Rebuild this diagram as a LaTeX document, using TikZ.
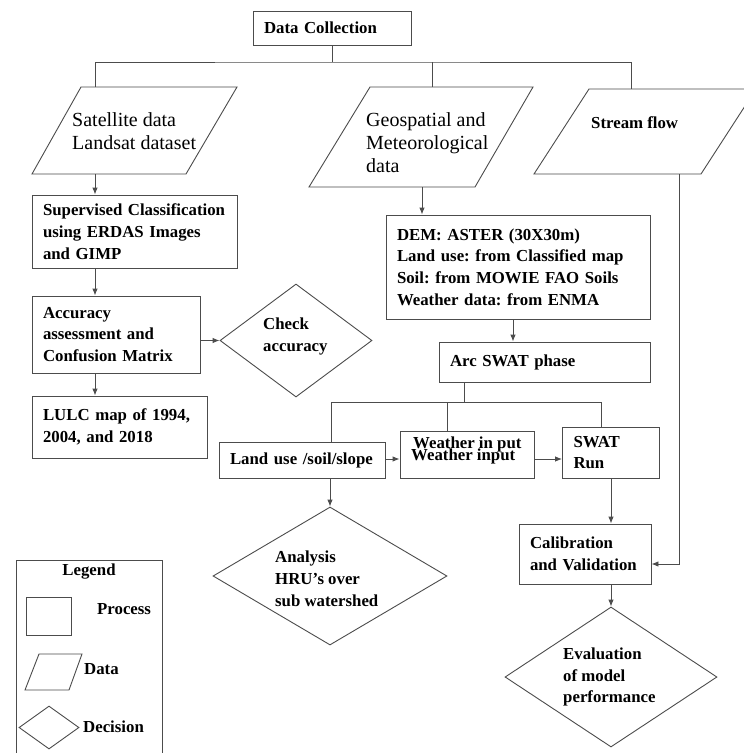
\documentclass[tikz,border=0pt]{standalone}
\usepackage{fontspec}
\setmainfont{Liberation Serif}
\usetikzlibrary{arrows.meta,shapes.geometric,calc}
\newcommand\mybf{\fontsize{16.8}{21.8}\selectfont\bfseries\frenchspacing}
\newcommand\myrm{\fontsize{20}{23}\selectfont\frenchspacing}
\begin{document}
\begin{tikzpicture}[x=1pt,y=-1pt,
  ln/.style={draw=black!70, line width=0.9pt},
  arr/.style={ln, -{Latex[length=7pt,width=5.5pt]}},
  box/.style={ln, rectangle, inner xsep=11pt, inner ysep=0pt, align=left, font=\mybf},
  dia/.style={ln, diamond, inner sep=0pt, aspect=1},
  txt/.style={inner sep=0pt, align=left, font=\mybf, anchor=west},
  rtxt/.style={inner sep=0pt, align=left, font=\myrm, anchor=west}]
\clip (0,0) rectangle (744,753);
\fill[white] (0,0) rectangle (744,753);

% ---------- top ----------
\node[box, minimum width=158pt, minimum height=34pt, text width=136pt] (dc) at (332,28) {Data Collection};
\coordinate (bus) at (332,62);
\coordinate (satTop) at (95,87);
\coordinate (geoTop) at (432,87);
\coordinate (strTop) at (631,89);
\draw[ln] (dc.south) -- (bus);
\draw[ln] (satTop) |- (bus) -| (strTop);
\draw[ln] (geoTop) -- (geoTop |- bus);

% data parallelograms
\draw[ln] (81,87) -- (237,87) -- (186,174) -- (32,174) -- cycle;
\node[rtxt] (sat) at (72,131.5) {Satellite data\\Landsat dataset};
\draw[ln] (370,87) -- (533,87) -- (475,187) -- (309,187) -- cycle;
\node[rtxt] (geo) at (366,143) {Geospatial and\\Meteorological\\data};
\draw[ln] (589,89) -- (756,89) -- (701,174) -- (534,174) -- cycle;
\node[txt] (str) at (591,123) {Stream flow};
\coordinate (satBot) at (95,174);
\coordinate (geoBot) at (422,187);
\coordinate (strBot) at (679,174);

% ---------- left column ----------
\node[box, minimum width=205pt, minimum height=73pt, text width=183pt] (sup) at (134.5,231.5) {Supervised Classification\\using ERDAS Images\\and GIMP};
\node[box, minimum width=168pt, minimum height=77pt, text width=146pt] (acc) at (116,334.5) {Accuracy\\assessment and\\Confusion Matrix};
\node[box, minimum width=175pt, minimum height=62pt, text width=153pt] (lulc) at (119.5,427) {LULC map of 1994,\\2004, and 2018};
\node[dia, minimum width=152pt, minimum height=113pt] (chk) at (296,340.5) {};
\node[txt] (chkT) at (263,336.5) {Check\\accuracy};

\draw[arr] (satBot) -- (sup.north -| satBot);
\draw[arr] (sup.south -| satBot) -- (acc.north -| satBot);
\draw[arr] (acc.south -| satBot) -- (lulc.north -| satBot);
\draw[arr] (acc.east |- chk.west) -- (chk.west);

% ---------- middle column ----------
\node[box, minimum width=264pt, minimum height=104pt, text width=242pt] (dem) at (518,267) {DEM: ASTER (30X30m)\\Land use: from Classified map\\Soil: from MOWIE FAO Soils\\Weather data: from ENMA};
\node[box, minimum width=211pt, minimum height=40pt, text width=189pt] (arc) at (544.5,362) {Arc SWAT phase};
\coordinate (cDA) at (513,0);
\draw[arr] (geoBot) -- (geoBot |- dem.north);
\draw[arr] (dem.south -| cDA) -- (arc.north -| cDA);

\node[box, minimum width=166pt, minimum height=36pt, text width=144pt] (lu) at (302,460) {Land use /soil/slope};
\node[ln, rectangle, minimum width=134pt, minimum height=47pt, inner sep=0pt] (wx) at (467,454.5) {};
\node[txt] (wxA) at (413,444) {Weather in put};
\node[txt] (wxB) at (411,456) {Weather input};
\node[box, minimum width=97pt, minimum height=51pt, text width=75pt] (swat) at (611,452.5) {SWAT\\Run};

\coordinate (b2) at (464,402);
\coordinate (b2L) at (331,402);
\coordinate (b2M) at (447,402);
\coordinate (b2R) at (601,402);
\draw[ln] (arc.south -| b2) -- (b2);
\draw[ln] (lu.north -| b2L) -- (b2L) -- (b2R) -- (swat.north -| b2R);
\draw[ln] (b2M) -- (wx.north -| b2M);
\coordinate (yA) at (0,459);
\draw[arr] (lu.east |- yA) -- (wx.west |- yA);
\draw[arr] (wx.east |- yA) -- (swat.west |- yA);

\node[dia, minimum width=234pt, minimum height=138pt] (ana) at (330,576) {};
\node[txt] (anaT) at (275,579) {Analysis\\HRU’s over\\sub watershed};
\draw[arr] (ana.north |- lu.south) -- (ana.north);

% ---------- right column ----------
\node[box, minimum width=132pt, minimum height=60pt, text width=110pt] (cal) at (585,554) {Calibration\\and Validation};
\node[dia, minimum width=212pt, minimum height=140pt] (ev) at (611,677) {};
\node[txt] (evT) at (563,677) {Evaluation\\of model\\performance};
\coordinate (yS) at (0,564);
\draw[arr] (swat.south) -- (swat.south |- cal.north);
\draw[arr] (strBot) -- (strBot |- yS) -- (cal.east |- yS);
\draw[arr] (ev.north |- cal.south) -- (ev.north);

% ---------- legend ----------
\node[ln, rectangle, minimum width=146pt, minimum height=210pt, anchor=north west, inner sep=0pt] (leg) at (16,560) {};
\node[inner sep=0pt, font=\mybf] (legT) at (89,572) {Legend};
\node[ln, rectangle, minimum width=45pt, minimum height=38pt, inner sep=0pt] (lp) at (48.5,616) {};
\node[txt] (lpT) at (97,609) {Process};
\draw[ln] (39,654) -- (82,654) -- (69,690) -- (25,690) -- cycle;
\node[txt] (ldT) at (84,669) {Data};
\node[dia, minimum width=60pt, minimum height=43pt] (ld) at (49,727.5) {};
\node[txt] (lddT) at (83,727) {Decision};
\end{tikzpicture}
\end{document}
